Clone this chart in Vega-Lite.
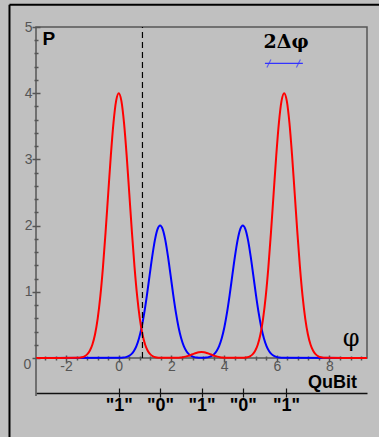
{
  "$schema": "https://vega.github.io/schema/vega-lite/v6.json",
  "width": 331,
  "height": 331,
  "autosize": "none",
  "padding": {"left": 36, "top": 27, "right": 12, "bottom": 79},
  "background": "#c0c0c0",
  "config": {
    "view": {"stroke": "#555555", "strokeWidth": 1.5},
    "axis": {"grid": false, "domainColor": "#555555", "tickColor": "#555555", "labelColor": "#555555", "labelFont": "Liberation Sans", "labelFontSize": 14, "title": null}
  },
  "datasets": {
    "blue": [
      {"x": -3.1416, "y": 0}, {"x": 0.07, "y": 0.0025}, {"x": 0.17, "y": 0.006}, {"x": 0.27, "y": 0.013}, {"x": 0.37, "y": 0.028}, {"x": 0.47, "y": 0.055}, {"x": 0.57, "y": 0.102}, {"x": 0.67, "y": 0.18}, {"x": 0.77, "y": 0.298}, {"x": 0.87, "y": 0.465}, {"x": 0.97, "y": 0.685}, {"x": 1.07, "y": 0.951}, {"x": 1.17, "y": 1.243}, {"x": 1.27, "y": 1.53}, {"x": 1.37, "y": 1.776}, {"x": 1.47, "y": 1.942}, {"x": 1.57, "y": 2.0}, {"x": 1.67, "y": 1.942}, {"x": 1.77, "y": 1.776}, {"x": 1.87, "y": 1.53}, {"x": 1.97, "y": 1.243}, {"x": 2.07, "y": 0.951}, {"x": 2.17, "y": 0.685}, {"x": 2.27, "y": 0.465}, {"x": 2.37, "y": 0.298}, {"x": 2.47, "y": 0.18}, {"x": 2.57, "y": 0.102}, {"x": 2.67, "y": 0.055}, {"x": 2.77, "y": 0.028}, {"x": 2.87, "y": 0.013}, {"x": 2.97, "y": 0.006}, {"x": 3.07, "y": 0.0025},
      {"x": 3.21, "y": 0.0025}, {"x": 3.31, "y": 0.006}, {"x": 3.41, "y": 0.013}, {"x": 3.51, "y": 0.028}, {"x": 3.61, "y": 0.055}, {"x": 3.71, "y": 0.102}, {"x": 3.81, "y": 0.18}, {"x": 3.91, "y": 0.298}, {"x": 4.01, "y": 0.465}, {"x": 4.11, "y": 0.685}, {"x": 4.21, "y": 0.951}, {"x": 4.31, "y": 1.243}, {"x": 4.41, "y": 1.53}, {"x": 4.51, "y": 1.776}, {"x": 4.61, "y": 1.942}, {"x": 4.71, "y": 2.0}, {"x": 4.81, "y": 1.942}, {"x": 4.91, "y": 1.776}, {"x": 5.01, "y": 1.53}, {"x": 5.11, "y": 1.243}, {"x": 5.21, "y": 0.951}, {"x": 5.31, "y": 0.685}, {"x": 5.41, "y": 0.465}, {"x": 5.51, "y": 0.298}, {"x": 5.61, "y": 0.18}, {"x": 5.71, "y": 0.102}, {"x": 5.81, "y": 0.055}, {"x": 5.91, "y": 0.028}, {"x": 6.01, "y": 0.013}, {"x": 6.11, "y": 0.006}, {"x": 6.21, "y": 0.0025}, {"x": 9.4248, "y": 0}
    ],
    "red": [
      {"x": -3.1416, "y": 0}, {"x": -1.6, "y": 0.002}, {"x": -1.5, "y": 0.005}, {"x": -1.4, "y": 0.012}, {"x": -1.3, "y": 0.026}, {"x": -1.2, "y": 0.055}, {"x": -1.1, "y": 0.109}, {"x": -1.0, "y": 0.204}, {"x": -0.9, "y": 0.359}, {"x": -0.8, "y": 0.595}, {"x": -0.7, "y": 0.93}, {"x": -0.6, "y": 1.37}, {"x": -0.5, "y": 1.901}, {"x": -0.4, "y": 2.485}, {"x": -0.3, "y": 3.06}, {"x": -0.2, "y": 3.551}, {"x": -0.1, "y": 3.883}, {"x": 0, "y": 4.0}, {"x": 0.1, "y": 3.883}, {"x": 0.2, "y": 3.551}, {"x": 0.3, "y": 3.06}, {"x": 0.4, "y": 2.485}, {"x": 0.5, "y": 1.901}, {"x": 0.6, "y": 1.37}, {"x": 0.7, "y": 0.93}, {"x": 0.8, "y": 0.595}, {"x": 0.9, "y": 0.359}, {"x": 1.0, "y": 0.204}, {"x": 1.1, "y": 0.109}, {"x": 1.2, "y": 0.055}, {"x": 1.3, "y": 0.026}, {"x": 1.4, "y": 0.012}, {"x": 1.5, "y": 0.005}, {"x": 1.6, "y": 0.002},
      {"x": 2.24, "y": 0.003}, {"x": 2.34, "y": 0.006}, {"x": 2.44, "y": 0.012}, {"x": 2.54, "y": 0.021}, {"x": 2.64, "y": 0.032}, {"x": 2.74, "y": 0.047}, {"x": 2.84, "y": 0.062}, {"x": 2.94, "y": 0.076}, {"x": 3.04, "y": 0.086}, {"x": 3.14, "y": 0.09}, {"x": 3.24, "y": 0.086}, {"x": 3.34, "y": 0.076}, {"x": 3.44, "y": 0.062}, {"x": 3.54, "y": 0.047}, {"x": 3.64, "y": 0.032}, {"x": 3.74, "y": 0.021}, {"x": 3.84, "y": 0.012}, {"x": 3.94, "y": 0.006}, {"x": 4.04, "y": 0.003},
      {"x": 4.68, "y": 0.002}, {"x": 4.78, "y": 0.005}, {"x": 4.88, "y": 0.012}, {"x": 4.98, "y": 0.026}, {"x": 5.08, "y": 0.055}, {"x": 5.18, "y": 0.109}, {"x": 5.28, "y": 0.204}, {"x": 5.38, "y": 0.359}, {"x": 5.48, "y": 0.595}, {"x": 5.58, "y": 0.93}, {"x": 5.68, "y": 1.37}, {"x": 5.78, "y": 1.901}, {"x": 5.88, "y": 2.485}, {"x": 5.98, "y": 3.06}, {"x": 6.08, "y": 3.551}, {"x": 6.18, "y": 3.883}, {"x": 6.28, "y": 4.0}, {"x": 6.38, "y": 3.883}, {"x": 6.48, "y": 3.551}, {"x": 6.58, "y": 3.06}, {"x": 6.68, "y": 2.485}, {"x": 6.78, "y": 1.901}, {"x": 6.88, "y": 1.37}, {"x": 6.98, "y": 0.93}, {"x": 7.08, "y": 0.595}, {"x": 7.18, "y": 0.359}, {"x": 7.28, "y": 0.204}, {"x": 7.38, "y": 0.109}, {"x": 7.48, "y": 0.055}, {"x": 7.58, "y": 0.026}, {"x": 7.68, "y": 0.012}, {"x": 7.78, "y": 0.005}, {"x": 7.88, "y": 0.002}, {"x": 9.4248, "y": 0}
    ]
  },
  "resolve": {"axis": {"x": "independent", "y": "independent"}},
  "layer": [
    {
      "data": {"name": "blue"},
      "mark": {"type": "line", "color": "#0000ff", "strokeWidth": 2, "interpolate": "monotone"},
      "encoding": {
        "x": {"field": "x", "type": "quantitative", "scale": {"domain": [-3.1416, 9.4248], "nice": false, "zero": false},
          "axis": {"orient": "bottom", "values": [-2, 0, 2, 4, 6, 8], "domain": false, "ticks": false, "labelPadding": 1, "labelExpr": "'' + datum.value"}},
        "y": {"field": "y", "type": "quantitative", "scale": {"domain": [0, 5], "nice": false, "zero": false},
          "axis": {"orient": "left", "values": [1, 2, 3, 4, 5], "domain": false, "ticks": false, "labelPadding": 4}}
      }
    },
    {
      "data": {"name": "red"},
      "mark": {"type": "line", "color": "#ff0000", "strokeWidth": 2, "interpolate": "monotone"},
      "encoding": {
        "x": {"field": "x", "type": "quantitative", "scale": {"domain": [-3.1416, 9.4248], "nice": false, "zero": false},
          "axis": {"orient": "bottom", "values": [-2, 0, 2, 4, 6, 8], "domain": false, "labels": false, "offset": -3, "tickSize": 7, "tickWidth": 1.5}},
        "y": {"field": "y", "type": "quantitative", "scale": {"domain": [0, 5], "nice": false, "zero": false},
          "axis": {"orient": "left", "values": [0, 1, 2, 3, 4, 5], "domain": false, "labels": false, "offset": -4, "tickSize": 8, "tickWidth": 1.5}}
      }
    },
    {
      "data": {"values": [{"x": 0.9, "y": 0, "y2": 5}]},
      "mark": {"type": "rule", "color": "#000000", "strokeWidth": 1.2, "strokeDash": [6, 4]},
      "encoding": {
        "x": {"field": "x", "type": "quantitative", "scale": {"domain": [-3.1416, 9.4248], "nice": false, "zero": false},
          "axis": {"orient": "bottom", "values": [-2.8, -2.4, -1.6, -1.2, -0.8, -0.4, 0.4, 0.8, 1.2, 1.6, 2.4, 2.8, 3.2, 3.6, 4.4, 4.8, 5.2, 5.6, 6.4, 6.8, 7.2, 7.6, 8.4, 8.8, 9.2], "domain": false, "labels": false, "offset": -2, "tickSize": 4, "tickWidth": 1.5}},
        "y": {"field": "y", "type": "quantitative", "scale": {"domain": [0, 5], "nice": false, "zero": false},
          "axis": {"orient": "left", "values": [0.2, 0.4, 0.6, 0.8, 1.2, 1.4, 1.6, 1.8, 2.2, 2.4, 2.6, 2.8, 3.2, 3.4, 3.6, 3.8, 4.2, 4.4, 4.6, 4.8], "domain": false, "labels": false, "offset": -2, "tickSize": 4, "tickWidth": 1.5}},
        "y2": {"field": "y2"}
      }
    },
    {
      "data": {"values": [
        {"x": -4.148, "x2": 10.1, "y": 5.337, "y2": 5.337},
        {"x": -4.148, "x2": -4.148, "y": 5.337, "y2": -1.3}
      ]},
      "mark": {"type": "rule", "color": "#000000", "strokeWidth": 2},
      "encoding": {
        "x": {"field": "x", "type": "quantitative", "scale": {"domain": [-3.1416, 9.4248], "nice": false, "zero": false},
          "axis": {"orient": "bottom", "offset": 35, "domain": true, "domainColor": "#111111", "domainWidth": 1.5, "ticks": false, "labels": false}},
        "x2": {"field": "x2"},
        "y": {"field": "y", "type": "quantitative", "scale": {"domain": [0, 5], "nice": false, "zero": false}, "axis": null},
        "y2": {"field": "y2"}
      }
    },
    {
      "data": {"values": [{"x": -3.1416, "y": 0, "y2": -0.574}]},
      "mark": {"type": "rule", "color": "#555555", "strokeWidth": 1.5},
      "encoding": {
        "x": {"field": "x", "type": "quantitative", "scale": {"domain": [-3.1416, 9.4248], "nice": false, "zero": false},
          "axis": {"orient": "bottom", "offset": 30, "domain": false, "values": [0, 1.5708, 3.1416, 4.7124, 6.35], "tickSize": 9, "tickColor": "#111111", "tickWidth": 1.2, "labelPadding": -1, "labelColor": "#000000", "labelFontSize": 18, "labelFontWeight": "bold", "labelFont": "Liberation Sans",
            "labelExpr": "(datum.value < 1 || (datum.value > 3 && datum.value < 4) || datum.value > 6) ? '\"1\"' : '\"0\"'"}},
        "y": {"field": "y", "type": "quantitative", "scale": {"domain": [0, 5], "nice": false, "zero": false}, "axis": null},
        "y2": {"field": "y2"}
      }
    },
    {
      "data": {"values": [{"x": 5.55, "x2": 6.99, "y": 4.45}]},
      "mark": {"type": "rule", "color": "#3333ff", "strokeWidth": 1.2},
      "encoding": {
        "x": {"field": "x", "type": "quantitative", "scale": {"domain": [-3.1416, 9.4248], "nice": false, "zero": false}, "axis": null},
        "x2": {"field": "x2"},
        "y": {"field": "y", "type": "quantitative", "scale": {"domain": [0, 5], "nice": false, "zero": false}, "axis": null}
      }
    },
    {
      "data": {"values": [{"x": 5.7, "y": 4.45}, {"x": 6.82, "y": 4.45}]},
      "mark": {"type": "point", "shape": "M-0.5,1L0.5,-1", "size": 64, "stroke": "#3333ff", "strokeWidth": 1.2, "filled": false},
      "encoding": {
        "x": {"field": "x", "type": "quantitative", "scale": {"domain": [-3.1416, 9.4248], "nice": false, "zero": false}, "axis": null},
        "y": {"field": "y", "type": "quantitative", "scale": {"domain": [0, 5], "nice": false, "zero": false}, "axis": null}
      }
    },
    {
      "data": {"values": [{"t": "P", "x": -2.656, "y": 4.82, "s": 19}, {"t": "QuBit", "x": 8.115, "y": -0.38, "s": 18}]},
      "mark": {"type": "text", "font": "Liberation Sans", "fontWeight": "bold", "color": "#000000", "align": "center", "baseline": "middle"},
      "encoding": {
        "x": {"field": "x", "type": "quantitative", "scale": {"domain": [-3.1416, 9.4248], "nice": false, "zero": false}, "axis": null},
        "y": {"field": "y", "type": "quantitative", "scale": {"domain": [0, 5], "nice": false, "zero": false}, "axis": null},
        "size": {"field": "s", "type": "quantitative", "scale": null, "legend": null},
        "text": {"field": "t"}
      }
    },
    {
      "data": {"values": [{"t": "2Δφ", "x": 6.35, "y": 4.69}]},
      "mark": {"type": "text", "font": "DejaVu Serif", "fontWeight": "bold", "fontSize": 19, "color": "#000000", "align": "center", "baseline": "alphabetic"},
      "encoding": {
        "x": {"field": "x", "type": "quantitative", "scale": {"domain": [-3.1416, 9.4248], "nice": false, "zero": false}, "axis": null},
        "y": {"field": "y", "type": "quantitative", "scale": {"domain": [0, 5], "nice": false, "zero": false}, "axis": null},
        "text": {"field": "t"}
      }
    },
    {
      "data": {"values": [{"t": "φ", "x": 8.82, "y": 0.287}]},
      "mark": {"type": "text", "font": "DejaVu Serif", "fontSize": 24, "color": "#000000", "align": "center", "baseline": "middle"},
      "encoding": {
        "x": {"field": "x", "type": "quantitative", "scale": {"domain": [-3.1416, 9.4248], "nice": false, "zero": false}, "axis": null},
        "y": {"field": "y", "type": "quantitative", "scale": {"domain": [0, 5], "nice": false, "zero": false}, "axis": null},
        "text": {"field": "t"}
      }
    },
    {
      "data": {"values": [{"t": "0", "x": -3.47, "y": -0.106}]},
      "mark": {"type": "text", "font": "Liberation Sans", "fontSize": 14, "color": "#555555", "align": "center", "baseline": "middle"},
      "encoding": {
        "x": {"field": "x", "type": "quantitative", "scale": {"domain": [-3.1416, 9.4248], "nice": false, "zero": false}, "axis": null},
        "y": {"field": "y", "type": "quantitative", "scale": {"domain": [0, 5], "nice": false, "zero": false}, "axis": null},
        "text": {"field": "t"}
      }
    }
  ]
}
